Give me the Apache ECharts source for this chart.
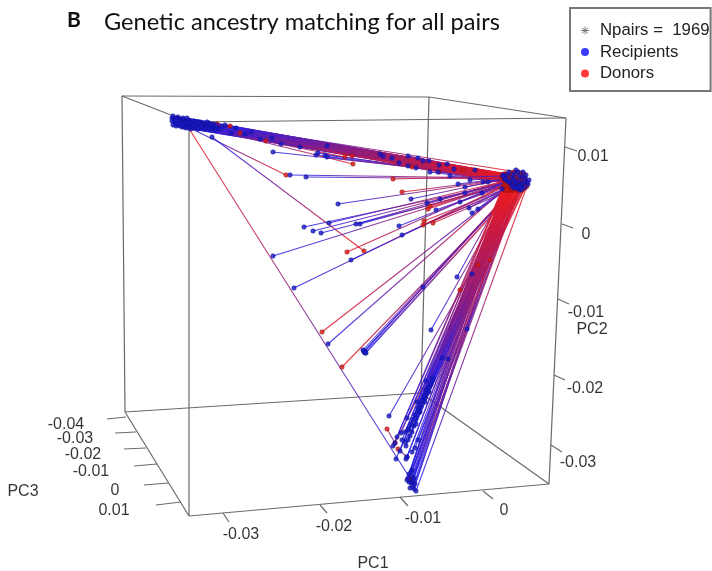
<!DOCTYPE html>
<html>
<head>
<meta charset="utf-8">
<style>html,body{margin:0;padding:0;background:#fff}#c{width:712px;height:571px}</style>
<script src="https://cdn.jsdelivr.net/npm/echarts@6/dist/echarts.min.js"></script>
</head>
<body>
<div id="c"></div>
<script>
// Pairs: recipient[i] is joined to donor[i].
const hubBandRecipients = [[172,118],[173,116],[177,122],[173,125],[182,122],[182,127],[178,117],[175,120],[180,119],[176,126],[184,124],[186,120],[189,128],[191,124],[195,123],[203,123],[203,128],[212,128],[215,130],[222,127],[225,125],[231,133],[208,125],[198,126],[194,121],[188,122],[179,124],[174,122],[185,126],[192,127],[236,128],[245,134],[251,132],[260,139],[272,138],[281,144],[300,147],[327,146],[318,153],[316,155],[325,155],[327,157],[380,154],[383,156],[392,158],[399,163],[408,156],[418,158],[423,161],[429,161],[439,165],[447,164],[454,169],[475,170],[408,166],[416,168],[430,172],[438,172],[450,176]];
const hubBandDonors = [[510,176],[505,174],[512,178],[508,180],[515,177],[518,181],[503,175],[507,176],[511,175],[513,182],[516,179],[509,177],[520,184],[517,180],[514,178],[519,179],[521,183],[518,184],[523,185],[520,181],[516,177],[525,186],[522,180],[512,181],[507,178],[510,179],[515,180],[504,177],[513,183],[519,182],[518,172],[522,177],[512,177],[525,178],[520,185],[515,183],[527,182],[510,183],[507,182],[502,178],[512,179],[522,181],[505,176],[511,178],[516,180],[520,182],[510,176],[514,178],[518,179],[523,181],[512,180],[515,178],[519,182],[522,183],[511,181],[516,182],[520,184],[510,182],[515,184]];
const denseBandRecipients = [[174,119],[176,118],[179,121],[181,124],[183,120],[185,122],[187,125],[190,121],[192,123],[193,126],[196,125],[199,124],[201,127],[204,125],[206,127],[209,123],[211,126],[214,127],[217,128],[219,129],[175,123],[178,125],[181,120],[184,127],[186,128],[188,120],[190,126],[194,128],[197,122],[200,122],[172,121],[177,119],[180,126],[183,118],[187,118],[189,124],[191,129],[195,127],[198,129],[202,125],[205,129],[207,122],[210,129],[213,124],[216,125]];
const denseBandDonors = [[506,176],[509,175],[512,176],[514,179],[508,177],[511,177],[516,178],[505,175],[510,178],[513,180],[517,179],[504,176],[515,181],[518,180],[512,182],[507,175],[510,180],[514,181],[517,183],[520,183],[509,179],[511,179],[506,177],[516,183],[519,184],[504,175],[513,178],[518,182],[508,176],[505,178],[503,177],[507,177],[512,181],[502,176],[504,174],[511,176],[521,182],[516,180],[519,181],[509,178],[520,180],[506,174],[518,178],[508,174],[512,175]];
const bandDotDonors = [[217,124],[230,126],[240,133],[266,141],[345,157],[352,156],[353,164],[412,167],[463,170],[439,172],[286,175],[364,251]];
const bandDotRecipients = [[176,121],[180,123],[186,123],[183,125],[188,126],[190,122],[194,125],[197,124],[200,126],[198,122],[190,128],[212,137]];
const fanRecipients = [[273,256],[294,288],[328,344],[351,260],[338,204],[304,227],[313,231],[321,233],[329,223],[290,175],[306,177],[273,152],[356,224],[360,224],[399,226],[402,235],[411,199],[427,203],[440,199],[436,210],[363,350],[364,352],[365,351],[366,353],[364,351],[365,353],[423,287],[431,330],[458,184],[465,187],[465,193],[460,202],[470,180],[483,182],[488,182],[482,193],[472,213],[478,209],[469,208],[457,277],[472,274]];
const fanDonors = [[514,181],[516,180],[510,184],[512,183],[508,179],[513,182],[511,181],[515,183],[509,180],[506,178],[507,179],[505,177],[512,180],[514,182],[510,182],[515,185],[509,178],[511,180],[513,179],[516,181],[517,184],[518,183],[516,185],[519,186],[517,185],[518,186],[515,186],[510,190],[506,178],[508,179],[510,181],[512,184],[504,178],[507,180],[510,180],[512,183],[514,185],[512,182],[513,184],[505,190],[510,188]];
const outlierDonors = [[322,332],[342,367],[347,252],[393,179],[402,192],[428,209],[430,206],[424,221],[423,225],[433,223],[460,290],[478,265],[490,260],[188,127],[387,429],[409,479],[412,480],[398,449],[395,443]];
const outlierRecipients = [[515,182],[518,186],[507,181],[503,176],[505,179],[510,182],[509,181],[512,186],[513,187],[515,188],[520,190],[521,188],[519,189],[413,483],[395,443],[518,188],[520,186],[407,457],[522,189]];
const bundleRecipients = [[407,480],[412,477],[410,488],[413,487],[416,491],[409,482],[411,483],[414,489],[408,478],[413,480],[415,484],[389,416],[407,418],[401,433],[405,432],[397,437],[393,446],[405,442],[396,459],[407,457],[406,459],[400,451],[402,440],[408,430],[417,402],[421,407],[427,393],[426,381],[430,386],[432,378],[425,398],[419,412],[415,415],[442,358],[448,359],[467,329]];
const bundleDonors = [[503,188],[507,187],[510,190],[512,189],[527,186],[506,186],[508,188],[513,187],[505,189],[511,185],[514,188],[519,190],[512,186],[508,184],[510,187],[506,183],[504,185],[509,186],[510,183],[512,184],[513,186],[507,185],[505,182],[511,183],[509,188],[513,190],[514,185],[516,187],[518,184],[515,189],[511,187],[508,182],[506,184],[522,190],[518,188],[520,186]];
const denseBundleRecipients = [[409,428],[411,424],[413,420],[410,436],[408,440],[406,446],[412,432],[414,426],[416,418],[418,408],[420,404],[422,400],[424,396],[426,390],[428,388],[416,424],[420,412],[425,402],[429,392],[431,384],[433,380],[412,470],[409,474],[411,472],[414,478],[412,452],[415,448],[418,440]];
const denseBundleDonors = [[505,188],[506,187],[507,188],[509,189],[508,190],[507,190],[510,188],[511,189],[513,188],[514,187],[515,187],[516,186],[517,185],[518,187],[519,186],[515,188],[518,188],[521,186],[523,185],[525,188],[526,184],[518,189],[512,188],[515,190],[520,188],[510,186],[513,185],[515,186]];
const hubClusterRecipients = [[503,175],[507,175],[512,177],[518,172],[522,177],[525,178],[527,182],[525,187],[520,185],[515,183],[510,183],[502,189],[515,188],[505,179],[509,172],[514,174],[519,176],[523,172],[526,175],[529,180],[524,182],[519,181],[514,179],[518,187],[522,184],[528,184],[516,170]];
const hubClusterDonors = [[505,177],[502,178],[507,182],[513,176],[520,175],[522,190],[520,179],[516,185],[511,186],[508,186],[505,182],[504,186],[518,190],[510,176],[512,173],[516,172],[521,173],[524,174],[525,181],[526,186],[521,186],[517,178],[509,181],[513,185],[524,180],[523,177],[514,172]];

// Box of the view, tick marks and text
const boxEdges = [[[122,96],[429,97]],[[429,97],[566,118]],[[566,118],[189,122]],[[189,122],[122,96]],[[122,96],[125,412]],[[189,122],[189,516]],[[566,118],[549,484]],[[429,97],[421,393]],[[125,412],[421,393]],[[421,393],[549,484]],[[549,484],[189,516]],[[189,516],[125,412]]];
const tickMarks = [[[107,419],[126,417]],[[115,433],[136,432]],[[124,449],[146,448]],[[134,466],[157,464]],[[144,485],[168,483]],[[156,505],[181,502]],[[223,513],[229,522]],[[320,505],[327,513]],[[400,497],[408,506]],[[483,491],[493,499]],[[565,147],[577,151]],[[562,224],[573,228]],[[558,299],[569,304]],[[554,375],[565,380]],[[551,445],[562,452]]];
const tickLabels = ['-0.04','-0.03','-0.02','-0.01','0','0.01','-0.03','-0.02','-0.01','0','0.01','0','-0.01','-0.02','-0.03'];
const tickLabelSpots = [[66,423],[75,437],[83,453],[91,470],[115,489],[114,509],[241,533],[334,525],[423,517],[504,509],[593,155],[586,233],[586,311],[585,387],[578,461]];
const axisNames = ['PC1','PC2','PC3'];
const axisNameSpots = [[373,562],[592,328],[23,490]];
const titleLetter = 'B';
const titleText = 'Genetic ancestry matching for all pairs';
const npairsLabel = 'Npairs =  1969';
const BLUE = '#2020f0', RED = '#f01818';
const BLUE_DOT = '#1818c8', RED_DOT = '#d81818';

const recipients = [...hubClusterRecipients, ...hubBandRecipients, ...denseBandRecipients, ...bandDotRecipients, ...fanRecipients, ...outlierRecipients, ...bundleRecipients, ...denseBundleRecipients];
const donors = [...hubClusterDonors, ...hubBandDonors, ...denseBandDonors, ...bandDotDonors, ...fanDonors, ...outlierDonors, ...bundleDonors, ...denseBundleDonors];

const series = [];
const segment = (pts, color, name) => ({type:'line', name, data:pts, symbol:'none', silent:true, animation:false, z:1, lineStyle:{color, width:1.2}});
boxEdges.forEach(e => series.push(segment(e, '#6a6a6a', 'box')));
tickMarks.forEach(e => series.push(segment(e, '#6a6a6a', 'tick')));
recipients.forEach((r, i) => {
  const d = donors[i];
  const grad = new echarts.graphic.LinearGradient(r[0] <= d[0] ? 0 : 1, r[1] <= d[1] ? 0 : 1, r[0] <= d[0] ? 1 : 0, r[1] <= d[1] ? 1 : 0, [{offset:0, color:BLUE}, {offset:1, color:RED}]);
  series.push({type:'line', name:'pair', data:[r, d], symbol:'none', silent:true, animation:false, z:2, lineStyle:{color:grad, width:1.1, opacity:.85}});
});
series.push({type:'scatter', name:'Donors', data:donors, symbolSize:4.5, z:3, animation:false, itemStyle:{color:RED_DOT, borderColor:'#8a1010', borderWidth:.6}});
series.push({type:'scatter', name:'Recipients', data:recipients, symbolSize:4.5, z:4, animation:false, itemStyle:{color:BLUE_DOT, borderColor:'#10108a', borderWidth:.6}});
const ASTERISK = 'path://M9 0h2v7.6l5.4-5.4 1.4 1.4L12.4 9H20v2h-7.6l5.4 5.4-1.4 1.4L11 12.4V20H9v-7.6l-5.4 5.4-1.4-1.4L7.6 11H0V9h7.6L2.2 3.6l1.4-1.4L9 7.6z';
series.push({type:'scatter', name:npairsLabel, data:[], symbol:ASTERISK, itemStyle:{color:'#555'}});
const textOf = (labels, spots, size) => ({type:'scatter', name:'text', symbolSize:1, silent:true, animation:false, z:5, itemStyle:{color:'transparent'},
  data: spots.map((p, i) => ({value:p, label:{formatter:labels[i]}})),
  label:{show:true, position:'inside', offset:[0,2], color:'#000', fontFamily:'Liberation Sans', fontSize:size}});
series.push(textOf(tickLabels, tickLabelSpots, 16));
series.push(textOf(axisNames, axisNameSpots, 16));

const chart = echarts.init(document.getElementById('c'), null, {renderer:'canvas'});
chart.setOption({
  animation:false,
  backgroundColor:'#fff',
  grid:{left:0, right:0, top:0, bottom:0},
  xAxis:{type:'value', min:0, max:712, show:false},
  yAxis:{type:'value', min:0, max:571, inverse:true, show:false},
  title:[
    {text:titleLetter, left:62, top:5, textStyle:{fontFamily:'Lato', fontWeight:'bold', fontSize:21, color:'#111'}},
    {text:titleText, left:99, top:5, textStyle:{fontFamily:'Lato', fontWeight:'normal', fontSize:23.6, color:'#111'}}
  ],
  legend:{
    show:true, orient:'vertical', left:570, top:8, itemGap:4.5, itemWidth:12, itemHeight:8,
    padding:[14,1,9,11], borderColor:'#777', borderWidth:2, backgroundColor:'#fff', selectedMode:false,
    textStyle:{fontFamily:'Liberation Sans', fontSize:16.8, color:'#222', padding:[0,0,0,4]},
    data:[
      {name:npairsLabel, icon:ASTERISK, itemStyle:{color:'#555', borderWidth:0}},
      {name:'Recipients', icon:'circle', itemStyle:{color:'#0a0aff', borderWidth:0}},
      {name:'Donors', icon:'circle', itemStyle:{color:'#ff0a0a', borderWidth:0}}
    ]
  },
  series
});
</script>
</body>
</html>
